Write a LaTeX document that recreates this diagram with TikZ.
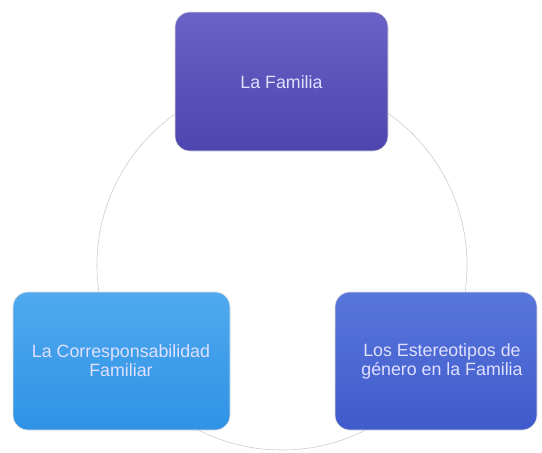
\documentclass[tikz,border=0pt]{standalone}
\usepackage{fontspec}
\setmainfont{Liberation Sans}
\begin{document}
\begin{tikzpicture}[x=1pt,y=-1pt,
  box/.style={rounded corners=15pt, draw=gray!25, line width=0.6pt},
  lbl/.style={text=white!88!blue, font=\fontsize{17.8}{19}\selectfont, align=center},
  ring/.style={draw=gray!40, line width=0.6pt}]
\useasboundingbox (0,0) rectangle (542,453);
\definecolor{topA}{HTML}{6A62C6}
\definecolor{topB}{HTML}{4E45AE}
\definecolor{leftA}{HTML}{4FAAEE}
\definecolor{leftB}{HTML}{2F92E6}
\definecolor{rightA}{HTML}{5877DC}
\definecolor{rightB}{HTML}{3F5ACB}
\coordinate (c) at (282,265);
\draw[ring] (c) circle[radius=185];
\path[box, top color=topA, bottom color=topB] (175,12) rectangle (388,151);
\node[lbl] (fam) at (281.5,82) {La Familia};
\path[box, top color=leftA, bottom color=leftB] (13,292) rectangle (230,430);
\node[lbl] (cor) at (121,361) {La Corresponsabilidad\\Familiar};
\path[box, top color=rightA, bottom color=rightB] (335,292) rectangle (537,430);
\node[lbl] (est) at (442,361) {Los Estereotipos de\\género en la Familia};
\end{tikzpicture}
\end{document}
